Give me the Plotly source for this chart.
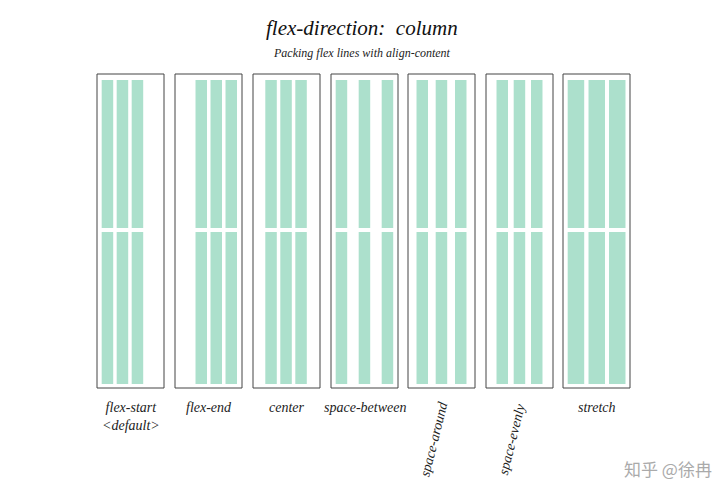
import plotly.graph_objects as go

# one entry per align-content value
labels = ["flex-start<br>&lt;default&gt;", "flex-end", "center", "space-between",
          "space-around", "space-evenly", "stretch"]
box_left = [97, 175, 253, 331, 408, 486, 563]
# left offset of each flex line inside its box, and line width
line_offsets = [
    [4.7, 19.7, 34.7],
    [20.5, 35.5, 50.5],
    [12.3, 27.3, 42.3],
    [4.7, 27.7, 50.7],
    [8.5, 27.7, 47.0],
    [10.5, 27.7, 45.0],
    [4.7, 25.5, 46.0],
]
line_widths = [11.5, 11.5, 11.5, 11.5, 11.5, 11.5, 16.5]
label_angle = [0, 0, 0, 0, -76, -76, 0]

BOX_W, BOX_TOP, BOX_BOT = 67, 74, 388
rows = [(80, 228), (232, 384)]
GREEN = "rgba(163,221,199,0.9)"
FONT = "Liberation Serif"

fig = go.Figure()
for i, x0 in enumerate(box_left):
    fig.add_shape(type="rect", x0=x0, x1=x0 + BOX_W, y0=BOX_TOP, y1=BOX_BOT,
                  line=dict(color="#444", width=1), fillcolor="white")
    for off in line_offsets[i]:
        for (r0, r1) in rows:
            fig.add_shape(type="rect", x0=x0 + off, x1=x0 + off + line_widths[i],
                          y0=r0, y1=r1, line_width=0, fillcolor=GREEN)
    cx = x0 + BOX_W / 2
    if label_angle[i] == 0:
        fig.add_annotation(x=cx, y=398, text=f"<i>{labels[i]}</i>", showarrow=False,
                           yanchor="top", font=dict(family=FONT, size=14, color="#222"))
    else:
        fig.add_annotation(x=cx - 8, y=439, text=f"<i>{labels[i]}</i>", showarrow=False,
                           textangle=label_angle[i],
                           font=dict(family=FONT, size=14, color="#222"))

fig.add_annotation(x=362, y=28, text="<i>flex-direction:  column</i>", showarrow=False,
                   font=dict(family=FONT, size=21, color="#111"))
fig.add_annotation(x=362, y=53, text="<i>Packing flex lines with align-content</i>",
                   showarrow=False, font=dict(family=FONT, size=12, color="#222"))
fig.add_annotation(x=668, y=468, text="知乎 @徐冉", showarrow=False,
                   font=dict(family="Noto Sans CJK SC", size=17, color="#aaa"))

# page body has an 8px margin, so the axes are shifted to keep page pixels = data units
fig.update_layout(
    width=720, height=502, margin=dict(l=0, r=0, t=0, b=0),
    paper_bgcolor="white", plot_bgcolor="white", showlegend=False,
    xaxis=dict(range=[8, 728], visible=False, fixedrange=True),
    yaxis=dict(range=[510, 8], visible=False, fixedrange=True),
)
fig.write_html("out.html")
